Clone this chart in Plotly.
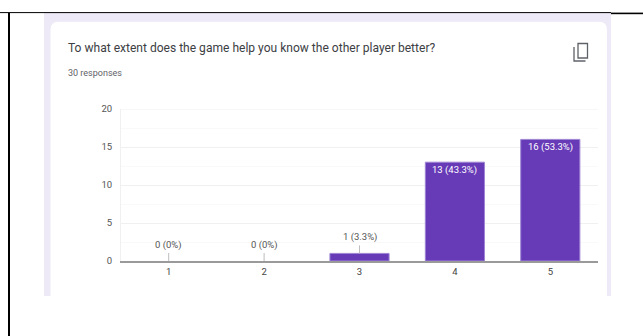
import plotly.graph_objects as go

categories = ["1", "2", "3", "4", "5"]
counts = [0, 0, 1, 13, 16]
percents = ["0%", "0%", "3.3%", "43.3%", "53.3%"]
y_ticks = [0, 5, 10, 15, 20]
title_text = "To what extent does the game help you know the other player better?"
subtitle_text = "30 responses"

W, H = 643, 336
PURPLE = "#673ab7"
LAVENDER = "#ede9f7"
CHART_FONT = "Roboto"

# Margins fixing the plot rectangle; everything else on the page is placed
# in paper coordinates that extend beyond 0..1 relative to this rectangle.
M = dict(l=121, r=45, t=109, b=75)


def fx(x):
    return (x - M["l"]) / (W - M["l"] - M["r"])


def fy(y):
    return (H - M["b"] - y) / (H - M["t"] - M["b"])


def rect(x0, y0, x1, y1, color, layer="below"):
    return dict(type="rect", xref="paper", yref="paper", x0=fx(x0), x1=fx(x1),
                y0=fy(y0), y1=fy(y1), fillcolor=color, line_width=0, layer=layer)


def seg(x0, y0, x1, y1, color, width):
    return dict(type="line", xref="paper", yref="paper", x0=fx(x0), x1=fx(x1),
                y0=fy(y0), y1=fy(y1), line=dict(color=color, width=width), layer="above")


def path(points, color, width):
    d = "M " + " L ".join(f"{fx(x)} {fy(y)}" for x, y in points)
    return dict(type="path", xref="paper", yref="paper", path=d,
                line=dict(color=color, width=width), layer="above")


def card_path(x0, y0, x1, y1, r):
    d = (f"M {fx(x0)} {fy(y1)} L {fx(x0)} {fy(y0 + r)} "
         f"Q {fx(x0)} {fy(y0)} {fx(x0 + r)} {fy(y0)} "
         f"L {fx(x1 - r)} {fy(y0)} Q {fx(x1)} {fy(y0)} {fx(x1)} {fy(y0 + r)} "
         f"L {fx(x1)} {fy(y1)} Z")
    return dict(type="path", xref="paper", yref="paper", path=d,
                fillcolor="white", line_width=0, layer="below")


shapes = [
    # Card background
    rect(44, 13, 611, 296, LAVENDER),
    card_path(50.5, 21.7, 607, 296, 8),
    # Surrounding table rules
    seg(0, 12.6, 611, 12.6, "black", 1),
    seg(611, 13.4, 643, 13.4, "black", 1.6),
    seg(9, 13, 9, 336, "black", 2),
    # Gridline along the top edge of the axis range
    dict(type="line", xref="paper", yref="y", x0=0, x1=1, y0=y_ticks[-1], y1=y_ticks[-1],
         line=dict(color="#f0f0f0", width=1), layer="below"),
    # Copy icon
    path([(578, 56.5), (578, 43.5), (587.5, 43.5), (587.5, 58), (578, 58), (578, 56.5)], "#5f6368", 1.3),
    path([(574, 47), (574, 61), (585.5, 61)], "#5f6368", 1.3),
]

annotations = [
    dict(text=title_text, xref="paper", yref="paper", x=fx(65.5), y=fy(48), xanchor="left",
         yanchor="middle", showarrow=False, font=dict(family="Roboto", size=12.05, color="#3c4043")),
    dict(text=subtitle_text, xref="paper", yref="paper", x=fx(65.5), y=fy(73), xanchor="left",
         yanchor="middle", showarrow=False, font=dict(family="Roboto", size=9, color="#5f6368")),
]

labels = [f"{c} ({p})" for c, p in zip(counts, percents)]
for i, (value, label) in enumerate(zip(counts, labels)):
    if value > 5:
        # Tall bars carry their label inside, in white
        annotations.append(dict(x=i, y=value, yshift=-7.5, text=label, showarrow=False,
                                font=dict(family=CHART_FONT, size=9.5, color="white")))
    else:
        # Short bars get a leader line up to a label above them
        annotations.append(dict(x=i, y=value, ax=0, ay=-8, text=label, showarrow=True,
                                yanchor="bottom", arrowhead=0, arrowwidth=1, arrowcolor="#bdbdbd",
                                standoff=0, font=dict(family=CHART_FONT, size=9.5, color="#555555")))

fig = go.Figure(go.Bar(
    x=categories,
    y=counts,
    width=0.62,
    marker=dict(
        color=PURPLE,
        line=dict(color="#9d84d4", width=[1 if c > 0 else 0 for c in counts]),
    ),
    hoverinfo="skip",
))

fig.update_layout(
    width=W,
    height=H,
    autosize=False,
    margin=M,
    paper_bgcolor="white",
    plot_bgcolor="rgba(0,0,0,0)",
    showlegend=False,
    shapes=shapes,
    annotations=annotations,
    xaxis=dict(
        type="category",
        range=[-0.5, 4.5],
        showgrid=False,
        showline=True,
        linecolor="#9a9a9a",
        linewidth=1.5,
        ticks="",
        ticklabelstandoff=1,
        tickfont=dict(family=CHART_FONT, size=9.5, color="#444444"),
    ),
    yaxis=dict(
        range=[0, 20],
        tickvals=y_ticks,
        showgrid=True,
        gridcolor="#f0f0f0",
        gridwidth=1,
        zeroline=False,
        showline=True,
        linecolor="#f0f0f0",
        linewidth=1,
        ticks="",
        ticklabelstandoff=6,
        tickfont=dict(family=CHART_FONT, size=9.5, color="#555555"),
        minor=dict(dtick=2.5, showgrid=True, gridcolor="#f9f9f9", gridwidth=1),
    ),
)

fig.write_html("out.html")
